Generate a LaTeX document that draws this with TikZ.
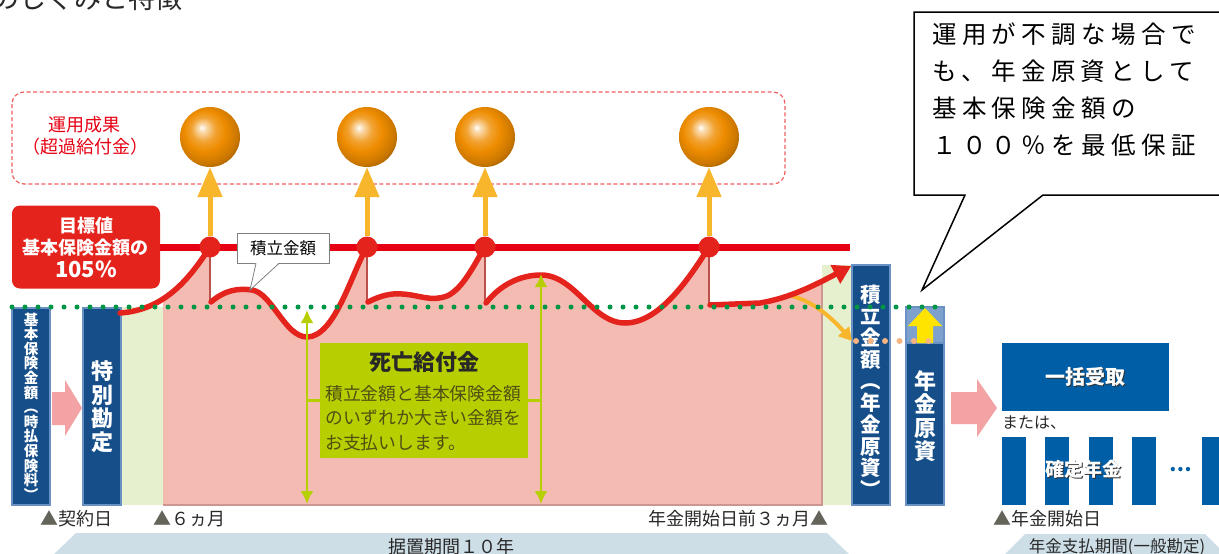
\documentclass[tikz,border=0pt]{standalone}
\usepackage{fontspec}
\setmainfont{Noto Sans CJK JP}
\newfontfamily\notefont[LetterSpace=22]{Noto Sans CJK JP}
\usetikzlibrary{arrows.meta}

\definecolor{navy}{RGB}{22,78,138}
\definecolor{navyedge}{RGB}{105,145,195}
\definecolor{steel}{RGB}{125,160,205}
\definecolor{boxblue}{RGB}{0,94,166}
\definecolor{redline}{RGB}{230,0,18}
\definecolor{redcurve}{RGB}{228,36,28}
\definecolor{dropred}{RGB}{190,80,75}
\definecolor{pinkfill}{RGB}{244,187,179}
\definecolor{pinkedge}{RGB}{205,150,145}
\definecolor{palegreen}{RGB}{231,240,206}
\definecolor{limegreen}{RGB}{183,206,0}
\definecolor{olivetext}{RGB}{80,80,20}
\definecolor{gold}{RGB}{248,182,45}
\definecolor{sphere}{RGB}{238,140,0}
\definecolor{dotgreen}{RGB}{0,150,70}
\definecolor{dotorange}{RGB}{246,180,128}
\definecolor{bandblue}{RGB}{206,222,230}
\definecolor{pinkarrow}{RGB}{243,163,163}
\definecolor{marker}{RGB}{100,100,90}
\definecolor{ink}{RGB}{40,40,40}
\definecolor{dashred}{RGB}{240,95,95}
\definecolor{fundyellow}{RGB}{255,228,0}

\pgfdeclareradialshading{orbshade}{\pgfqpoint{-7bp}{8bp}}{color(0bp)=(white);
  color(3bp)=(sphere!30!white); color(10bp)=(sphere!80!white); color(17bp)=(sphere);
  color(26bp)=(sphere!85!black); color(32bp)=(sphere!65!black); color(50bp)=(sphere!50!black)}

\newcommand{\fsize}[2]{\fontsize{#1}{#2}\selectfont}
\newcommand{\tri}{{\color{marker}▲}}

\begin{document}
\begin{tikzpicture}[x=1pt,y=-1pt,>=latex,
  bluebar/.style={fill=navy,draw=navyedge,line width=1.5pt,inner sep=0pt,text=white,align=center},
  bartext/.style={text=white,align=center,inner sep=0pt},
  orb/.style={circle,minimum size=60pt,inner sep=0pt,shading=orbshade},
  hit/.style={circle,fill=redcurve,minimum size=21pt,inner sep=0pt},
  rise/.style={draw=gold,line width=5pt,-{Triangle[width=24pt,length=30pt]}},
  growth/.style={draw=redcurve,line width=5.5pt,line cap=round,line join=round},
  deathspan/.style={draw=limegreen,line width=2.5pt,{Latex[length=13pt,width=13pt]}-{Latex[length=13pt,width=13pt]}},
  band/.style={fill=bandblue},
  datelabel/.style={font=\fsize{18}{20},text=ink,inner sep=0pt}]

\useasboundingbox (0,0) rectangle (1219,554);

\node[anchor=base west,inner sep=0pt,font=\fsize{27}{27},text=ink] (heading) at (-62,9) {商品のしくみと特徴};

\draw[dashred,line width=1.2pt,dash pattern=on 4pt off 2.5pt,rounded corners=12pt] (12,92) rectangle (785,184);
\node[text=redline,font=\fsize{18}{22},align=center] (gain) at (85,136) {運用成果\\（超過給付金）};

\foreach \x/\n in {210/1,367/2,485/3,709/4} {
  \node[orb] (g\n) at (\x,137) {};
  \coordinate (p\n) at (\x,247);
}

\node[fill=redcurve,rounded corners=8pt,minimum width=148pt,minimum height=83pt,text=white,align=center,font=\bfseries\fsize{18}{22.5}] (target) at (86,247) {目標値\\基本保険金額の\\{\fsize{22}{22.5}105\%}};

\fill[palegreen] (120,307) rectangle (163,505);
\fill[palegreen] (822,265) rectangle (852,505);
\begin{scope}
\clip (163,200) rectangle (822,505);
\fill[pinkfill] (120,505) -- (120,313) .. controls (165,310) and (190,278) .. (210,247) -- (210,302)
  .. controls (225,290) and (238,288) .. (252,290) .. controls (272,293) and (285,337) .. (307,337)
  .. controls (335,337) and (352,272) .. (367,247) -- (367,302)
  .. controls (380,296) and (390,293) .. (402,294) .. controls (420,295) and (430,302) .. (447,296)
  .. controls (463,289) and (475,263) .. (485,247) -- (485,303)
  .. controls (500,285) and (520,275) .. (541,275) .. controls (575,275) and (592,323) .. (625,323)
  .. controls (660,323) and (690,277) .. (709,247) -- (709,305) -- (760,303)
  .. controls (790,298) and (815,285) .. (852,266) -- (852,505) -- cycle;
\end{scope}
\draw[pinkedge,line width=2pt] (822,282) -- (822,505) -- (163,505);

\node[bluebar,minimum width=38pt,minimum height=197pt,font=\bfseries\fsize{14.5}{14.6}] (basebar) at (31,406.5) {基\\本\\保\\険\\金\\額\\︵\\時\\払\\保\\険\\料\\︶};
\node[bluebar,minimum width=38pt,minimum height=197pt,font=\bfseries\fsize{22}{23.5}] (special) at (102,406.5) {特\\別\\勘\\定};
\node[bluebar,minimum width=38pt,minimum height=240pt] (accumbar) at (871,385) {};
\node[bartext,font=\bfseries\fsize{20.5}{21.7}] (accumtext) at (871,391) {積\\立\\金\\額\\︵\\年\\金\\原\\資\\︶};
\node[fill=steel,draw=navyedge,line width=1.5pt,minimum width=38pt,minimum height=36pt,inner sep=0pt] (fundtop) at (925,325) {};
\node[bluebar,minimum width=38pt,minimum height=162pt] (fundbar) at (925,424) {};
\node[bartext,font=\bfseries\fsize{22}{23.3}] (fundtext) at (925,416) {年\\金\\原\\資};
\fill[fundyellow] (917,343) -- (917,326) -- (908,326) -- (925,308) -- (942,326) -- (933,326) -- (933,343) -- cycle;

\draw[redline,line width=7pt] (target.east) -- (850,247);

\foreach \n/\y in {1/302,2/302,3/303,4/305}
  \draw[dropred,line width=1.2pt] (p\n) -- ++(0,{\y-247});
\draw[growth] (120,313) .. controls (165,310) and (190,278) .. (p1);
\draw[growth] (211,302) .. controls (225,290) and (238,288) .. (252,290) .. controls (272,293) and (285,337) .. (307,337) .. controls (335,337) and (352,272) .. (p2);
\draw[growth] (368,302) .. controls (380,296) and (390,293) .. (402,294) .. controls (420,295) and (430,302) .. (447,296) .. controls (463,289) and (475,263) .. (p3);
\draw[growth] (486,303) .. controls (500,285) and (520,275) .. (541,275) .. controls (575,275) and (592,323) .. (625,323) .. controls (660,323) and (690,277) .. (p4);

\coordinate (split) at (788,295);
\coordinate (fundline) at (852,341);
\draw[gold,line width=4pt,-{Triangle[width=14pt,length=13pt]}] (split) .. controls (812,300) and (832,318) .. (fundline);
\draw[growth,-{Triangle[width=20pt,length=18pt]}] (710,305) -- (760,303) .. controls (790,298) and (815,285) .. (accumbar.west |- 0,266);

\node[fill=limegreen,minimum width=208pt,minimum height=115pt] (death) at (424,400.5) {};
\node[font=\bfseries\fsize{22}{24},text=ink] (deathtitle) at (424,362) {死亡給付金};
\node[anchor=west,align=left,font=\fsize{17.8}{24.5},text=olivetext,inner sep=0pt] (deathtext) at (325,418) {積立金額と基本保険金額\\のいずれか大きい金額を\\お支払いします。};
\coordinate (dt1) at (307,310);
\coordinate (db1) at (307,504);
\coordinate (dt2) at (541,274);
\coordinate (db2) at (541,504);
\draw[deathspan] (dt1) -- (db1);
\draw[deathspan] (dt2) -- (db2);
\draw[limegreen,line width=2.5pt] (death.west) -- (death.west -| dt1);
\draw[limegreen,line width=2.5pt] (death.east) -- (death.east -| dt2);

\foreach \n in {1,...,4} {
  \node[hit] (d\n) at (p\n) {};
  \draw[rise] (d\n.north) -- (g\n.south);
}

\node[draw=gray,fill=white,line width=0.8pt,minimum width=92pt,minimum height=30pt,inner sep=0pt,font=\fsize{16.5}{18}] (accum) at (283,248) {積立金額};
\coordinate (accumtip) at (250,290);
\fill[white] ([xshift=-27pt,yshift=1pt]accum.south) -- (accumtip) -- ([xshift=-4pt,yshift=1pt]accum.south) -- cycle;
\draw[gray,line width=0.8pt] ([xshift=-27pt]accum.south) -- (accumtip) -- ([xshift=-4pt]accum.south);

\draw[dotgreen,line width=5pt,line cap=round,dash pattern=on 0pt off 13pt] (12,307) -- (940,307);
\draw[dotorange,line width=6pt,line cap=round,dash pattern=on 0pt off 14.5pt] (856,341) -- (936,341);

\fill[pinkarrow] (52,392) -- (65,392) -- (65,380) -- (82,408) -- (65,436) -- (65,425) -- (52,425) -- cycle;
\fill[pinkarrow] (951,392) -- (977,392) -- (977,379) -- (997,408) -- (977,437) -- (977,424) -- (951,424) -- cycle;

\node[fill=boxblue,minimum width=167pt,minimum height=68pt] (lumpsum) at (1085.5,377) {};
\node[text=black!80,font=\bfseries\fsize{20}{22}] (lumpshadow) at ([xshift=1pt,yshift=-1pt]lumpsum) {一括受取};
\node[text=white,font=\bfseries\fsize{20}{22}] (lumptext) at (lumpsum) {一括受取};
\node[anchor=west,inner sep=0pt,font=\fsize{16}{18},text=ink] (orelse) at (1002,423) {または、};
\foreach \bx in {1002,1045,1089,1132,1202}
  \fill[boxblue] (\bx,437) rectangle ++(24,68);
\node[text=black!80,font=\bfseries\fsize{19}{21}] (fixedshadow) at (1084,470) {確定年金};
\node[text=white,font=\bfseries\fsize{19}{21}] (fixedtext) at (1083,469) {確定年金};
\node[text=boxblue,font=\bfseries\fsize{20}{22}] (more) at (1181,470) {…};

\node[datelabel,anchor=west] (start) at (40,519) {\tri 契約日};
\node[datelabel,anchor=west] (sixmonth) at (153,519) {\tri ６ヵ月};
\node[datelabel,anchor=east] (prestart) at (829,519) {年金開始日前３ヵ月\tri};
\node[datelabel,anchor=west] (paystart) at (993,519) {\tri 年金開始日};

\fill[band] (52,556) -- (76,533) -- (827,533) -- (851,556) -- (827,579) -- (76,579) -- cycle;
\node[font=\fsize{18}{20},text=ink] (deferral) at (451,547) {据置期間１０年};
\fill[band] (1002,557) -- (1025,534) -- (1205,534) -- (1228,557) -- (1205,580) -- (1025,580) -- cycle;
\node[font=\fsize{16.5}{18},text=ink] (payout) at (1117,547) {年金支払期間(一般勘定)};

\coordinate (notetip) at (922,290);
\draw[line width=1.5pt,fill=white] (914,12) -- (1232,12) -- (1232,195) -- (1043,195) -- (notetip) -- (965,195) -- (914,195) -- cycle;
\node[anchor=north west,align=left,inner sep=0pt,font=\notefont\fsize{24.5}{37},text=black] (note) at (932,23) {運用が不調な場合で\\も、年金原資として\\基本保険金額の\\１００％を最低保証};

\end{tikzpicture}
\end{document}
